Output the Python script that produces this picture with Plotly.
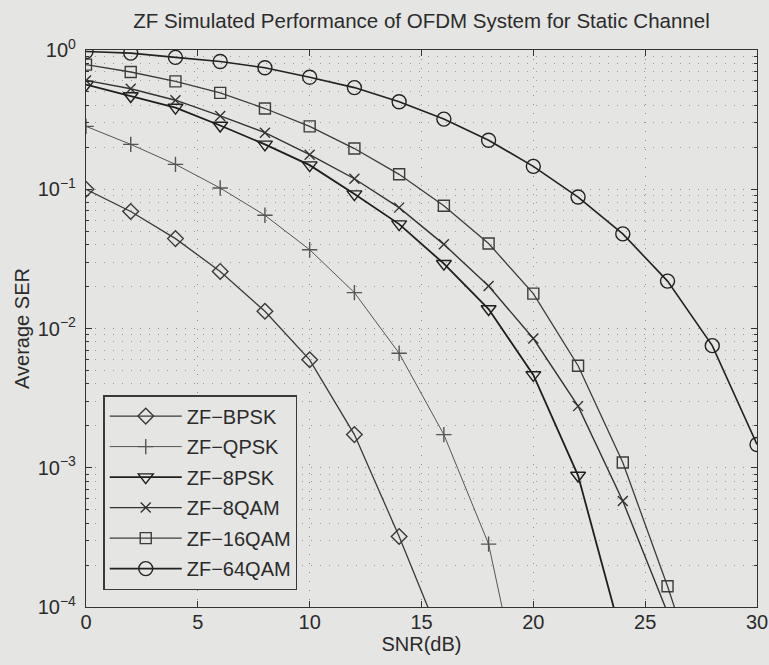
import plotly.graph_objects as go

# SNR grid (dB) used for every modulation scheme
snr_db = [0, 2, 4, 6, 8, 10, 12, 14, 16, 18, 20, 22, 24, 26, 28, 30]

# Average symbol error rate per modulation (ZF equaliser, static channel)
ser_bpsk = [0.1, 0.0692, 0.0442, 0.0257, 0.0133, 0.00596, 0.00173, 0.000321, 5.2e-5]
ser_qpsk = [0.283, 0.21, 0.151, 0.102, 0.065, 0.0368, 0.0181, 0.00664, 0.00173, 0.000283, 8.9e-6]
ser_8psk = [0.565, 0.467, 0.386, 0.287, 0.21, 0.149, 0.0923, 0.0562, 0.0292, 0.0138, 0.00464, 0.000879, 5.7e-5]
ser_8qam = [0.605, 0.527, 0.436, 0.336, 0.255, 0.177, 0.119, 0.0738, 0.0402, 0.0202, 0.00847, 0.00277, 0.000577, 9.1e-5]
ser_16qam = [0.785, 0.695, 0.595, 0.492, 0.38, 0.283, 0.196, 0.128, 0.0762, 0.0408, 0.0178, 0.0054, 0.00109, 0.000141, 1.5e-5]
ser_64qam = [0.975, 0.95, 0.885, 0.826, 0.745, 0.638, 0.537, 0.425, 0.319, 0.225, 0.146, 0.0879, 0.0478, 0.0219, 0.00753, 0.00147]

series_names = ["ZF−BPSK", "ZF−QPSK", "ZF−8PSK", "ZF−8QAM", "ZF−16QAM", "ZF−64QAM"]
series_values = [ser_bpsk, ser_qpsk, ser_8psk, ser_8qam, ser_16qam, ser_64qam]

# Axis tick labels
y_tick_vals = [1e-4, 1e-3, 1e-2, 1e-1, 1]
y_tick_text = ["10<sup>−4</sup>", "10<sup>−3</sup>", "10<sup>−2</sup>", "10<sup>−1</sup>", "10<sup>0</sup>"]
x_tick_vals = [0, 5, 10, 15, 20, 25, 30]

styles = [
    dict(symbol="diamond-open", size=12, color="#3a3a3a", width=1.3),
    dict(symbol="cross-thin-open", size=11, color="#555555", width=1.0),
    dict(symbol="triangle-down-open", size=13, color="#1e1e1e", width=1.8),
    dict(symbol="x-thin-open", size=10, color="#333333", width=1.4),
    dict(symbol="square-open", size=11, color="#3c3c3c", width=1.3),
    dict(symbol="circle-open", size=14, color="#222222", width=1.6),
]

BG = "#e5e5e3"
INK = "#2b2b2b"
FONT = "Liberation Sans, Arial, sans-serif"

fig = go.Figure()
for name, vals, st in zip(series_names, series_values, styles):
    fig.add_trace(go.Scatter(
        x=snr_db[:len(vals)], y=vals, name=name, legendgroup=name,
        mode="lines+markers",
        line=dict(color=st["color"], width=st["width"]),
        marker=dict(symbol=st["symbol"], size=st["size"], color=st["color"],
                    line=dict(color=st["color"], width=1.4)),
    ))

minor_y = [m * 10 ** e for e in range(-4, 0) for m in range(2, 10)]

fig.update_layout(
    width=769, height=665,
    margin=dict(l=86, r=12, t=50, b=58),
    paper_bgcolor=BG, plot_bgcolor=BG,
    font=dict(family=FONT, size=19, color=INK),
    title=dict(text="ZF Simulated Performance of OFDM System for Static Channel",
               x=0.5, xref="paper", y=1 - 21 / 665, yref="container",
               xanchor="center", yanchor="middle",
               font=dict(size=20.5, family=FONT, color=INK)),
    legend=dict(x=0.026, y=0.03, xanchor="left", yanchor="bottom",
                bgcolor=BG, bordercolor="#3a3a3a", borderwidth=1.3,
                itemwidth=72, tracegroupgap=1.5,
                font=dict(size=20, family=FONT, color=INK)),
    showlegend=True,
)

fig.update_xaxes(
    range=[0, 30], tickvals=x_tick_vals, ticks="inside", ticklen=6,
    tickcolor="#333", showline=True, linecolor="#333", linewidth=1.3,
    mirror="ticks", showgrid=True, gridcolor="#8c8c8c", gridwidth=1,
    griddash="1px,8px", zeroline=False, automargin=False,
    ticklabelstandoff=-3,
    title=dict(text="SNR(dB)", standoff=0, font=dict(size=20)),
    tickfont=dict(size=20),
)
fig.update_yaxes(
    type="log", range=[-4, 0], tickvals=y_tick_vals, ticktext=y_tick_text,
    ticks="inside", ticklen=6, tickcolor="#333", showline=True,
    linecolor="#333", linewidth=1.3, mirror="ticks",
    showgrid=True, gridcolor="#8c8c8c", gridwidth=1, griddash="1px,8px",
    minor=dict(tickvals=minor_y, ticks="inside", ticklen=3, tickcolor="#333",
               showgrid=True, gridcolor="#9a9a9a", gridwidth=1, griddash="1px,8px"),
    zeroline=False, automargin=False, ticklabelstandoff=5,
    title=dict(text="Average SER", standoff=2, font=dict(size=20)),
    tickfont=dict(size=20),
)

fig.write_html("out.html")
